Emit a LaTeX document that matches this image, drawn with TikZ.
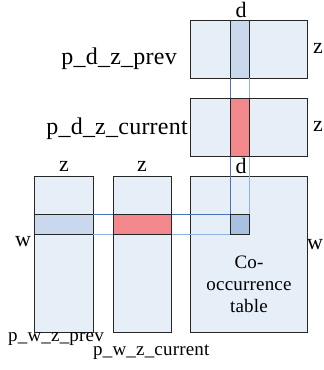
\documentclass[tikz,border=0pt]{standalone}
\usepackage{fontspec}
\setmainfont{Liberation Serif}[LetterSpace=1]
\begin{document}
\begin{tikzpicture}[x=1pt,y=-1pt,
  box/.style={draw=black!85, line width=0.9pt, fill=boxfill, inner sep=0pt, outer sep=0pt},
  prevcell/.style={box, fill=prevfill},
  curcell/.style={box, fill=curfill},
  sqcell/.style={box, fill=sqfill},
  darkln/.style={draw=darkblue, line width=0.8pt},
  lightln/.style={draw=lightblue, line width=0.9pt},
  big/.style={font=\fontsize{24}{26}\selectfont, inner sep=0pt},
  mid/.style={font=\fontsize{22}{24}\selectfont, inner sep=0pt},
  small/.style={font=\fontsize{19}{22}\selectfont, inner sep=0pt}]
\definecolor{boxfill}{HTML}{E6EEF8}
\definecolor{prevfill}{HTML}{C9D8EC}
\definecolor{curfill}{HTML}{F2888B}
\definecolor{sqfill}{HTML}{A9C1E0}
\definecolor{darkblue}{HTML}{4A72B8}
\definecolor{lightblue}{HTML}{8FB2E0}
\useasboundingbox (0,0) rectangle (324,370);
% big boxes
\node[box, minimum width=117pt, minimum height=58pt] (dprev) at (248.5,49) {};
\node[box, minimum width=117pt, minimum height=58pt] (dcur) at (248.5,127) {};
\node[box, minimum width=117pt, minimum height=156pt] (cooc) at (248.5,254) {};
\node[box, minimum width=59pt, minimum height=156pt] (wprev) at (63.5,254) {};
\node[box, minimum width=58pt, minimum height=156pt] (wcur) at (142,254) {};
% highlighted cells (positions)
\path (239.5,49) coordinate (cp) (239.5,127) coordinate (cc) (239.5,224) coordinate (cs)
      (63.5,224) coordinate (rp) (142,224) coordinate (rc);
% connecting lines
\node[prevcell, minimum width=19pt, minimum height=58pt] (colprev) at (cp) {};
\node[sqcell, minimum width=19pt, minimum height=20pt] (sq) at (cs) {};
\node[prevcell, minimum width=59pt, minimum height=20pt] (rowprev) at (rp) {};
\draw[darkln] (colprev.south west) -- (sq.north west);
\draw[lightln] (colprev.south east) -- (sq.north east);
\draw[darkln] (rowprev.north east) -- (sq.north west);
\draw[lightln] (rowprev.south east) -- (sq.south west);
\node[curcell, minimum width=19pt, minimum height=58pt] (colcur) at (cc) {};
\node[curcell, minimum width=58pt, minimum height=20pt] (rowcur) at (rc) {};
\node[sqcell, minimum width=19pt, minimum height=20pt] at (cs) {};
% labels
\node[mid] (d1) at (241,10) {d};
\node[mid] (z1) at (318,48) {z};
\node[mid] (z2) at (318,126) {z};
\node[mid] (d2) at (241,166) {d};
\node[mid] (w1) at (315,245) {w};
\node[mid] (w2) at (23,242) {w};
\node[mid] (z3) at (64,166) {z};
\node[mid] (z4) at (142,166) {z};
\node[big, anchor=base east] (lp) at (177,64) {p\_d\_z\_prev};
\node[big, anchor=base east] (lc) at (188,134) {p\_d\_z\_current};
\node[small, anchor=base west] (bp) at (8,341) {p\_w\_z\_prev};
\node[small, anchor=base west] (bc) at (93,355) {p\_w\_z\_current};
\node[small, align=center, font=\fontsize{19}{22}\selectfont] (ct) at (249,284) {Co-\\occurrence\\table};
\end{tikzpicture}
\end{document}
